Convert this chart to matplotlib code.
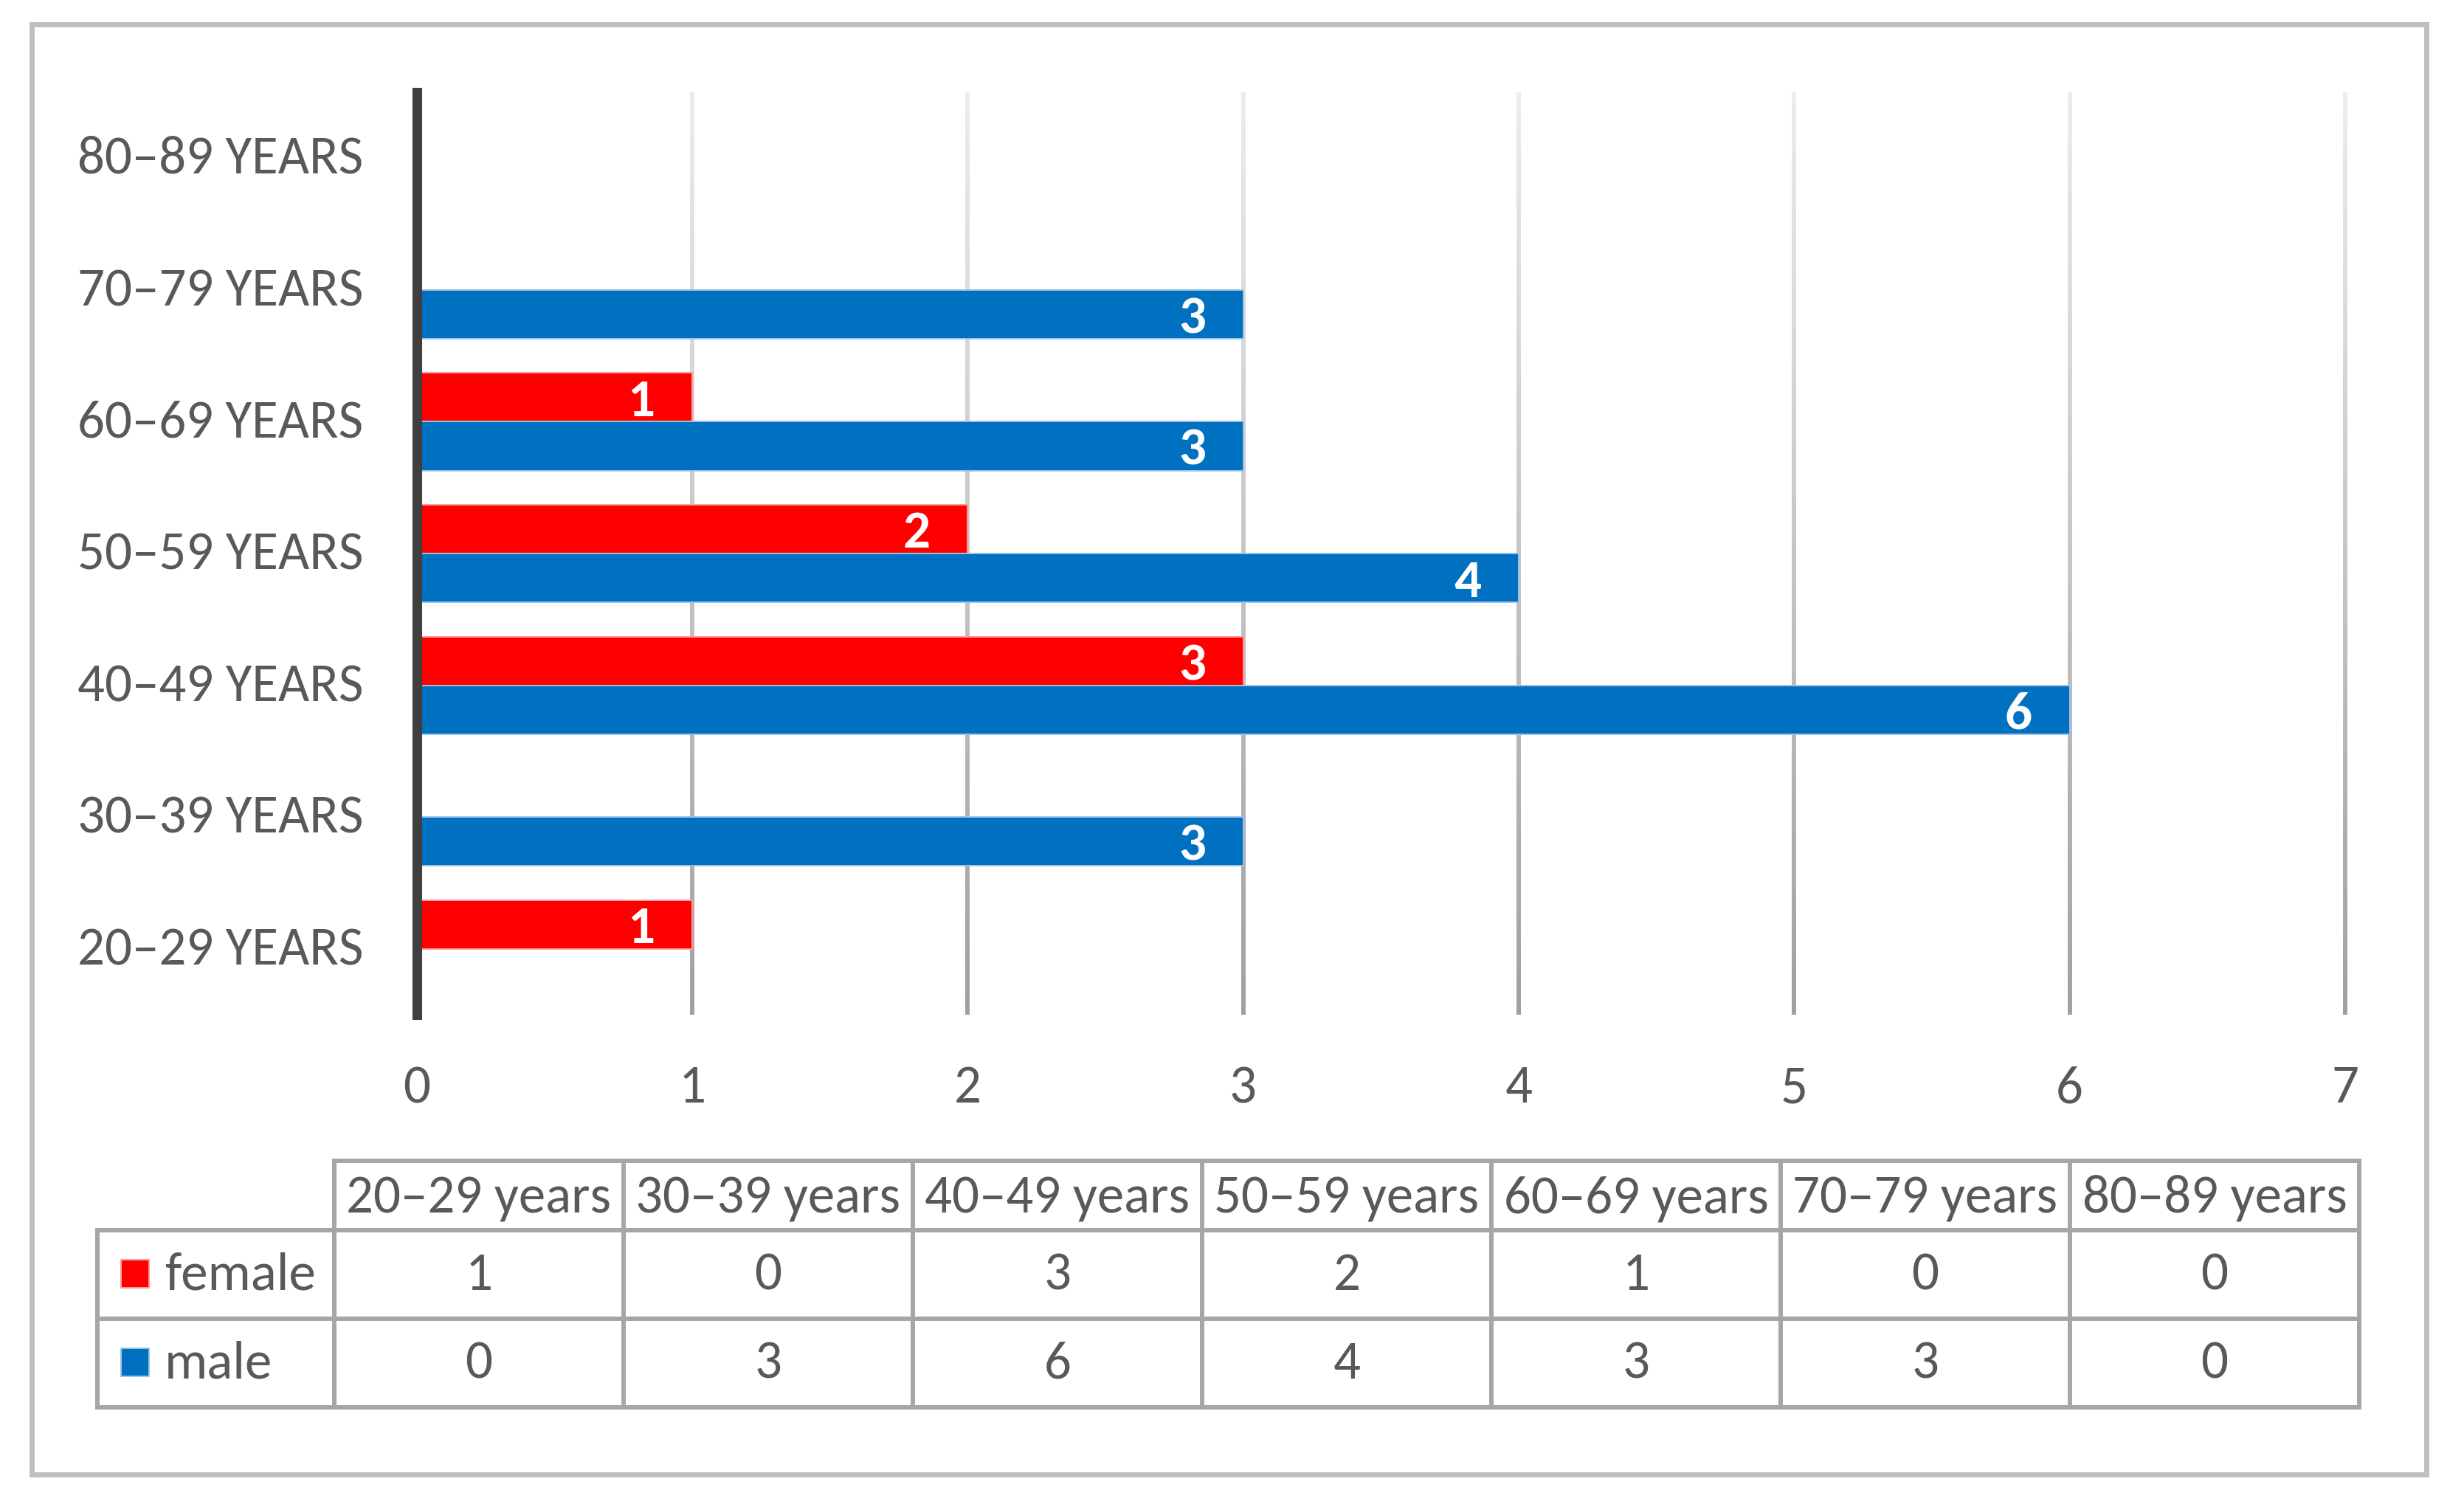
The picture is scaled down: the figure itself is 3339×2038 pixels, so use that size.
import numpy as np
import matplotlib
matplotlib.use('Agg')
import matplotlib.pyplot as plt
from matplotlib import font_manager
from matplotlib.collections import LineCollection
from matplotlib.patches import Rectangle
from matplotlib.transforms import ScaledTranslation

# data
age_groups = ['20–29 years', '30–39 years', '40–49 years', '50–59 years',
              '60–69 years', '70–79 years', '80–89 years']
series_names = ['female', 'male']
female = [1, 0, 3, 2, 1, 0, 0]
male = [0, 3, 6, 4, 3, 3, 0]
x_ticks = [0, 1, 2, 3, 4, 5, 6, 7]

RED = '#ff0000'
BLUE = '#0070c0'
RED_EDGE = '#ff9c9c'
BLUE_EDGE = '#9dc3e6'
TXT = '#595959'

W, H, DPI = 3339, 2038, 100

# font: Calibri look-alike if there is one
names = {f.name for f in font_manager.fontManager.ttflist}
cap = {'Carlito': 0.644, 'Lato': 0.716, 'Open Sans': 0.714}
font = 'Lato'
for c in ['Carlito', 'Lato', 'Open Sans']:
    if c in names:
        font = c
        break
plt.rcParams['font.family'] = [font, 'DejaVu Sans']
FS = 47 / cap[font] * 72 / DPI   # digit height ~47 px

fig = plt.figure(figsize=(W / DPI, H / DPI), dpi=DPI)

# overlay axes in pixel coords for frame + data table
tax = fig.add_axes([0, 0, 1, 1], zorder=0)
tax.set_xlim(0, W)
tax.set_ylim(H, 0)
tax.axis('off')
tax.patch.set_alpha(0)

tax.add_patch(Rectangle((43, 33), 3288 - 43, 1998 - 33, fill=False,
                        edgecolor='#bfbfbf', linewidth=5))

# main chart
x0, x7 = 564.5, 3178
y_top, y_bot = 125, 1375
ax = fig.add_axes([x0 / W, 1 - y_bot / H, (x7 - x0) / W, (y_bot - y_top) / H], zorder=1)
ax.patch.set_alpha(0)

y = np.arange(len(age_groups))
h = 0.37
ax.barh(y + h / 2, female, height=h, color=RED, edgecolor=RED_EDGE, linewidth=1.4, zorder=2)
ax.barh(y - h / 2, male, height=h, color=BLUE, edgecolor=BLUE_EDGE, linewidth=1.4, zorder=2)

for vals, off in [(female, h / 2), (male, -h / 2)]:
    for i, v in enumerate(vals):
        if v > 0:
            ax.annotate(str(v), (v, i + off), xytext=(-49.7, 0), textcoords='offset points',
                        ha='center', va='center_baseline', color='white',
                        fontweight='bold', fontsize=FS, zorder=3)

ax.set_xlim(0, 7)
ax.set_ylim(-0.5, 6.5)

# gridlines with a light-to-dark gradient
n = 80
ys = np.linspace(6.5, -0.5, n + 1)
shade = np.linspace(236, 160, n) / 255
for xt in x_ticks[1:]:
    segs = [[(xt, ys[k]), (xt, ys[k + 1])] for k in range(n)]
    lc = LineCollection(segs, colors=[(s, s, s) for s in shade], linewidths=4.3,
                        zorder=0.5, clip_on=False, capstyle='butt')
    ax.add_collection(lc)

for s in ['top', 'right', 'bottom']:
    ax.spines[s].set_visible(False)
ax.spines['left'].set_linewidth(9.4)
ax.spines['left'].set_color('#404040')
ax.spines['left'].set_zorder(4)

ax.set_xticks(x_ticks)
ax.set_xticklabels([str(t) for t in x_ticks])
ax.set_yticks(y)
ax.set_yticklabels([g.upper() for g in age_groups])
ax.tick_params(axis='x', length=0, pad=49, labelsize=FS, labelcolor=TXT)
ax.tick_params(axis='y', length=0, pad=52, labelsize=FS, labelcolor=TXT)
up = ScaledTranslation(0, 4 / DPI, fig.dpi_scale_trans)
for lab in ax.get_yticklabels():
    lab.set_transform(lab.get_transform() + up)

# data table under the chart
tl = '#a6a6a6'
lw = 4.3
leg_x = 132
cols = [453 + 392 * i for i in range(len(age_groups) + 1)]
rows = [1573, 1667, 1787, 1907]

tax.plot([cols[0], cols[-1]], [rows[0], rows[0]], color=tl, lw=lw, solid_capstyle='projecting')
for r in rows[1:]:
    tax.plot([leg_x, cols[-1]], [r, r], color=tl, lw=lw, solid_capstyle='projecting')
tax.plot([leg_x, leg_x], [rows[1], rows[-1]], color=tl, lw=lw, solid_capstyle='projecting')
for c in cols:
    tax.plot([c, c], [rows[0], rows[-1]], color=tl, lw=lw, solid_capstyle='projecting')

for j, g in enumerate(age_groups):
    cx = (cols[j] + cols[j + 1]) / 2
    tax.text(cx, (rows[0] + rows[1]) / 2 - 2, g, ha='center', va='center_baseline',
             fontsize=FS, color=TXT)
    for k, vals in enumerate([female, male]):
        tax.text(cx, (rows[k + 1] + rows[k + 2]) / 2 - 5, str(vals[j]), ha='center',
                 va='center_baseline', fontsize=FS, color=TXT)

for k, (name, col, ec) in enumerate([(series_names[0], RED, RED_EDGE),
                                     (series_names[1], BLUE, BLUE_EDGE)]):
    cy = (rows[k + 1] + rows[k + 2]) / 2
    tax.add_patch(Rectangle((164, cy - 20), 38, 38, facecolor=col, edgecolor=ec, linewidth=1.4))
    tax.text(223, cy - 5, name, ha='left', va='center_baseline', fontsize=FS, color=TXT)

fig.savefig('out.png', dpi=DPI)
